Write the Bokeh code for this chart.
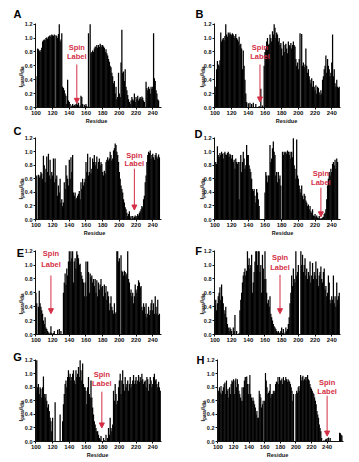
import math
from bokeh.plotting import figure
from bokeh.layouts import column, row
from bokeh.models import Label, Arrow, NormalHead, FixedTicker, Range1d, NumeralTickFormatter
from bokeh.embed import file_html
from bokeh.resources import INLINE

# ---------------- data ----------------
residues = list(range(100, 250))
residues_H = list(range(100, 260))

x_ticks = [100, 120, 140, 160, 180, 200, 220, 240]
y_ticks = [0.0, 0.2, 0.4, 0.6, 0.8, 1.0, 1.2]

panel_letters = ["A", "B", "C", "D", "E", "F", "G", "H"]
spin_label_residue = [149, 154, 218, 227, 118, 178, 179, 240]

A_values = [
    0.45, 0.00, 0.85, 0.84, 0.82, 0.80, 0.83, 0.86, 0.95, 0.97,
    0.98, 0.97, 1.00, 1.01, 0.99, 1.02, 1.03, 1.04, 1.02, 1.05,
    1.04, 1.03, 1.05, 0.00, 1.04, 1.03, 1.00, 1.06, 1.20, 0.95,
    0.98, 1.07, 0.30, 0.28, 0.25, 0.20, 0.17, 0.05, 0.40, 0.10,
    0.08, 0.05, 0.00, 0.03, 0.05, 0.02, 0.04, 0.03, 0.05, 0.06,
    0.04, 0.07, 0.00, 0.03, 0.17, 0.15, 0.05, 0.00, 0.04, 0.02,
    0.05, 0.02, 0.00, 1.07, 0.00, 1.20, 0.78, 0.80, 0.82, 0.80,
    0.85, 0.88, 0.87, 0.90, 0.86, 0.90, 0.87, 0.92, 0.90, 0.87,
    0.90, 0.88, 0.86, 0.80, 0.84, 0.78, 0.75, 0.70, 0.66, 0.60,
    0.58, 0.50, 0.45, 0.35, 0.38, 0.20, 0.30, 0.12, 0.15, 0.50,
    0.20, 0.15, 0.65, 1.12, 0.50, 0.52, 0.38, 0.55, 0.30, 0.25,
    0.18, 0.12, 0.08, 0.05, 0.10, 0.15, 0.12, 0.10, 0.20, 0.08,
    0.15, 0.12, 0.17, 0.10, 0.13, 0.15, 0.12, 0.16, 0.14, 0.10,
    0.08, 0.00, 0.37, 0.28, 0.25, 0.30, 0.27, 0.20, 0.30, 0.27,
    0.30, 1.07, 0.42, 0.38, 0.25, 0.20, 0.12, 0.10, 0.00, 0.00,
]

B_values = [
    0.18, 0.30, 0.55, 0.67, 0.62, 0.60, 0.68, 1.08, 0.95, 0.98,
    1.00, 0.97, 1.03, 1.20, 1.05, 1.02, 1.08, 1.05, 1.08, 1.06,
    1.04, 1.07, 1.05, 1.00, 1.03, 1.06, 1.00, 0.98, 0.95, 1.02,
    0.90, 0.92, 0.85, 0.55, 0.82, 0.60, 0.40, 0.20, 0.08, 0.00,
    0.06, 0.00, 0.07, 0.00, 0.05, 0.00, 0.07, 0.00, 0.00, 0.05,
    0.00, 0.00, 0.00, 0.02, 0.00, 0.27, 0.00, 0.03, 0.00, 0.60,
    0.80, 0.85, 0.95, 1.00, 0.90, 0.92, 1.05, 1.00, 0.95, 1.10,
    1.05, 1.20, 1.15, 1.00, 1.08, 1.05, 0.95, 1.00, 0.90, 0.93,
    0.85, 0.75, 0.95, 0.80, 0.90, 0.92, 0.85, 0.78, 0.95, 0.90,
    0.88, 0.93, 0.85, 0.90, 0.95, 0.90, 0.88, 0.70, 0.60, 0.65,
    0.55, 0.70, 1.07, 0.00, 1.06, 0.60, 0.65, 0.58, 0.62, 0.85,
    0.60, 0.50, 0.55, 0.45, 0.40, 0.35, 0.42, 0.30, 0.38, 0.30,
    0.25, 0.32, 0.20, 0.30, 0.28, 0.22, 0.18, 0.25, 0.20, 0.40,
    0.45, 0.55, 0.60, 0.75, 0.50, 0.70, 0.60, 0.55, 0.45, 0.50,
    0.65, 1.05, 0.45, 0.55, 0.35, 0.30, 0.40, 0.30, 0.28, 0.30,
]

C_values = [
    0.40, 0.65, 0.00, 0.66, 0.62, 0.65, 0.70, 0.68, 0.60, 0.94,
    0.80, 0.55, 0.75, 0.93, 0.70, 0.97, 0.65, 0.88, 0.60, 0.70,
    0.65, 0.90, 0.55, 0.90, 0.60, 0.65, 0.35, 0.50, 0.40, 0.60,
    0.25, 0.30, 0.20, 0.25, 0.55, 0.45, 0.80, 0.65, 0.60, 0.50,
    0.88, 0.60, 0.92, 0.70, 0.95, 0.40, 0.35, 0.40, 0.30, 0.32,
    0.35, 0.38, 0.42, 0.30, 0.55, 0.45, 0.60, 0.50, 0.55, 0.60,
    0.85, 0.70, 0.97, 0.65, 0.70, 0.92, 0.68, 0.75, 0.90, 0.85,
    0.95, 0.80, 0.85, 0.93, 0.75, 0.85, 0.90, 0.80, 0.85, 0.82,
    0.70, 0.65, 0.72, 0.68, 0.85, 0.88, 0.92, 0.87, 0.90, 1.00,
    0.95, 0.87, 0.90, 1.02, 1.05, 1.12, 1.10, 1.00, 0.95, 0.85,
    0.70, 0.60, 0.50, 0.45, 0.40, 0.30, 0.25, 0.18, 0.15, 0.10,
    0.05, 0.08, 0.12, 0.03, 0.05, 0.00, 0.05, 0.02, 0.04, 0.06,
    0.03, 0.05, 0.08, 0.06, 0.10, 0.12, 0.15, 0.20, 0.18, 0.30,
    0.35, 0.55, 0.65, 0.85, 0.95, 1.00, 0.98, 1.02, 0.90, 0.95,
    0.97, 0.92, 0.88, 0.95, 0.98, 0.93, 0.90, 0.96, 0.92, 0.00,
]

D_values = [
    0.60, 0.85, 0.82, 1.08, 0.95, 0.92, 0.98, 0.95, 1.00, 0.97,
    0.90, 0.98, 1.00, 0.96, 0.95, 0.98, 1.00, 0.93, 0.97, 0.95,
    0.90, 0.95, 0.85, 0.88, 0.75, 0.90, 0.85, 0.82, 0.85, 0.30,
    0.85, 0.95, 0.70, 0.85, 1.00, 0.90, 0.75, 0.80, 1.10, 0.95,
    0.95, 0.80, 0.75, 0.70, 0.60, 0.45, 0.42, 0.45, 0.35, 0.25,
    0.45, 0.40, 0.30, 0.20, 0.00, 0.00, 0.00, 0.00, 0.00, 0.00,
    0.40, 0.70, 0.65, 0.55, 0.65, 0.65, 1.10, 0.85, 0.90, 1.05,
    1.15, 1.00, 0.95, 0.65, 0.70, 0.55, 0.70, 0.60, 0.65, 0.50,
    0.00, 1.00, 0.95, 1.00, 0.98, 1.00, 0.97, 1.02, 1.00, 0.95,
    1.00, 0.90, 1.00, 0.92, 1.20, 0.80, 0.75, 0.60, 1.18, 0.65,
    0.60, 0.50, 0.45, 0.40, 0.50, 0.35, 0.30, 0.38, 0.35, 0.28,
    0.25, 0.20, 0.22, 0.15, 0.20, 0.12, 0.10, 0.15, 0.06, 0.05,
    0.08, 0.04, 0.06, 0.03, 0.02, 0.05, 0.02, 0.01, 0.02, 0.03,
    0.04, 0.08, 0.10, 0.15, 0.30, 0.50, 0.60, 0.70, 0.65, 0.75,
    0.70, 0.82, 0.85, 0.80, 0.88, 0.75, 0.90, 0.85, 0.00, 0.00,
]

E_values = [
    0.60, 0.45, 0.00, 0.40, 0.63, 0.45, 0.40, 0.35, 0.30, 0.20,
    0.15, 0.25, 0.10, 0.08, 0.05, 0.03, 0.00, 0.03, 0.12, 0.02,
    0.00, 0.02, 0.05, 0.00, 0.00, 0.00, 0.07, 0.00, 0.08, 0.00,
    0.05, 0.00, 0.00, 0.60, 0.75, 0.88, 0.72, 0.95, 0.85, 1.05,
    1.20, 1.05, 1.20, 1.10, 1.20, 0.75, 1.05, 1.10, 0.95, 1.20,
    1.15, 1.10, 1.00, 1.02, 0.90, 0.85, 0.80, 0.75, 0.55, 0.75,
    1.05, 0.55, 1.05, 0.90, 0.60, 0.88, 0.82, 0.85, 0.75, 0.80,
    0.70, 0.80, 0.60, 0.78, 0.55, 0.75, 0.65, 0.72, 0.80, 0.68,
    0.70, 0.55, 0.72, 0.60, 0.70, 0.50, 0.62, 0.55, 0.35, 0.45,
    0.55, 0.40, 0.35, 0.30, 0.45, 0.30, 0.32, 1.20, 1.20, 1.05,
    1.10, 0.00, 1.14, 0.92, 0.90, 0.85, 0.92, 0.90, 0.85, 0.88,
    1.20, 0.80, 0.75, 0.60, 0.65, 0.55, 0.60, 0.45, 0.55, 0.72,
    0.65, 0.60, 0.70, 0.78, 0.75, 0.68, 0.70, 0.40, 0.35, 0.45,
    0.40, 0.30, 0.45, 0.25, 0.30, 0.40, 0.28, 0.35, 0.45, 0.50,
    0.35, 0.45, 0.30, 0.55, 0.40, 0.30, 0.50, 0.28, 0.30, 0.00,
]

F_values = [
    0.42, 0.50, 0.35, 0.45, 0.55, 0.60, 0.68, 0.50, 0.72, 0.55,
    0.45, 0.35, 0.30, 0.40, 0.25, 0.15, 0.10, 0.05, 0.10, 0.08,
    0.05, 0.00, 0.10, 0.05, 0.28, 0.00, 0.05, 0.00, 0.00, 0.02,
    0.35, 0.50, 0.60, 0.75, 0.85, 0.90, 0.95, 0.85, 0.92, 1.20,
    1.00, 1.10, 0.95, 1.00, 1.15, 0.60, 0.75, 0.90, 1.05, 1.20,
    1.20, 1.00, 1.20, 1.20, 0.90, 1.00, 0.60, 1.15, 0.95, 0.80,
    1.20, 0.80, 0.60, 0.45, 0.50, 0.40, 0.55, 0.30, 0.25, 0.20,
    0.15, 0.12, 0.10, 0.08, 0.05, 0.03, 0.05, 0.02, 0.03, 0.05,
    0.10, 0.02, 0.08, 0.00, 0.03, 0.10, 0.05, 0.08, 0.15, 0.25,
    0.45, 0.60, 0.85, 0.70, 0.95, 0.80, 0.75, 1.20, 0.85, 0.90,
    1.00, 0.00, 0.00, 1.20, 1.00, 1.15, 0.90, 1.00, 1.10, 0.85,
    0.95, 0.80, 0.90, 0.85, 1.05, 0.75, 0.85, 1.03, 0.80, 0.90,
    0.85, 1.05, 0.80, 0.95, 0.70, 0.85, 0.90, 0.98, 0.80, 0.75,
    0.90, 0.95, 0.65, 0.70, 0.55, 0.60, 0.85, 0.75, 0.50, 0.45,
    0.55, 0.50, 0.85, 0.45, 0.55, 0.40, 0.75, 0.50, 0.55, 0.60,
]

G_values = [
    0.75, 1.20, 0.80, 0.85, 0.70, 0.80, 0.78, 0.65, 0.80, 0.96,
    0.70, 0.65, 0.70, 0.60, 0.50, 0.55, 0.45, 0.35, 0.30, 0.15,
    0.35, 0.00, 0.00, 0.58, 0.00, 0.00, 0.00, 0.00, 0.00, 0.40,
    0.00, 0.00, 0.30, 0.55, 0.70, 0.85, 0.90, 0.80, 0.95, 1.05,
    0.95, 1.00, 0.90, 0.95, 1.00, 1.05, 0.90, 0.85, 1.05, 0.95,
    1.00, 1.10, 0.95, 1.20, 1.05, 0.90, 1.15, 0.85, 0.80, 0.80,
    0.75, 0.55, 0.80, 0.95, 0.70, 0.65, 0.90, 0.65, 0.50, 0.40,
    0.30, 0.25, 0.20, 0.15, 0.15, 0.10, 0.05, 0.03, 0.08, 0.00,
    0.00, 0.05, 0.02, 0.00, 0.10, 0.00, 0.05, 0.20, 0.10, 0.35,
    0.20, 0.15, 0.25, 0.75, 0.60, 0.85, 0.70, 0.55, 0.60, 0.80,
    0.90, 1.00, 0.70, 0.90, 1.05, 0.85, 0.75, 0.95, 0.80, 0.85,
    0.90, 0.75, 0.85, 0.95, 0.80, 0.85, 0.90, 0.98, 0.85, 0.90,
    0.95, 0.85, 0.90, 0.98, 0.88, 0.95, 0.90, 1.00, 0.92, 0.85,
    0.88, 0.90, 0.80, 0.95, 0.92, 0.75, 0.85, 0.95, 0.90, 0.80,
    0.85, 0.95, 1.00, 0.90, 0.92, 0.85, 0.80, 0.88, 0.80, 0.75,
]

H_values = [
    0.55, 0.75, 0.80, 0.72, 0.82, 0.70, 0.75, 0.80, 0.85, 0.87,
    0.70, 0.90, 0.75, 0.78, 0.65, 0.80, 0.70, 0.85, 0.90, 0.88,
    0.92, 0.70, 0.90, 0.93, 0.80, 0.92, 0.85, 0.75, 0.70, 0.65,
    0.60, 0.80, 0.60, 0.80, 0.90, 0.95, 0.95, 0.96, 0.85, 0.70,
    0.85, 0.98, 0.70, 0.65, 0.60, 0.65, 0.60, 0.55, 0.50, 0.40,
    0.45, 0.35, 0.35, 0.75, 0.70, 0.65, 0.50, 0.55, 0.60, 0.00,
    0.60, 1.01, 0.90, 0.80, 0.70, 0.72, 0.75, 0.85, 0.65, 0.70,
    0.70, 0.75, 0.72, 0.75, 0.85, 0.88, 0.88, 0.95, 0.85, 0.95,
    0.90, 0.90, 0.93, 0.85, 0.95, 0.90, 0.90, 0.95, 0.92, 0.88,
    0.92, 0.90, 0.88, 0.85, 0.80, 0.75, 0.60, 0.70, 0.00, 0.00,
    0.70, 0.75, 0.72, 0.80, 0.82, 0.75, 0.98, 0.90, 0.95, 0.97,
    0.90, 0.92, 0.95, 0.90, 0.95, 0.98, 0.92, 0.90, 0.85, 0.80,
    0.78, 0.75, 0.72, 0.70, 0.65, 0.60, 0.55, 0.45, 0.40, 0.35,
    0.25, 0.20, 0.15, 0.05, 0.00, 0.00, 0.02, 0.00, 0.03, 0.04,
    0.00, 0.05, 0.06, 0.00, 0.05, 0.00, 0.00, 0.00, 0.00, 0.00,
    0.00, 0.00, 0.00, 0.00, 0.00, 0.00, 0.13, 0.12, 0.10, 0.09,
]

panel_values = [A_values, B_values, C_values, D_values, E_values, F_values, G_values, H_values]
panel_residues = [residues] * 7 + [residues_H]

# ---------------- layout / style ----------------
FONT = "Liberation Sans"
RED = "#d42f46"
BAR = "#000000"
INK = "#111111"
X_START = 99.5
Y_END = 1.21

# row: (space_top, plot_h, space_bottom) in px
ROWS = [(23, 84, 17), (13, 82, 17), (14, 84, 10), (15, 82, 19)]
# col: (space_left, plot_w, space_right) in px
COLS = [(35, 126, 22), (31, 126, 18)]
COL_H = (34, 126, 15)
X_END = [250.5] * 7 + [261.0]
SHOW_RESIDUE = [True, True, True, True, False, False, True, True]
RESIDUE_DX = [61, 72, 59, 68, 0, 0, 62, 60]
LETTER_POS = [(-18, 10), (-15, 10), (-18, 7), (-16, 4), (-15, -2), (-16, 0), (-18, 3), (-17, 0)]
YLAB_X = [-14.5, -12.5, -14.5, -12.5, -14.5, -12.5, -14.5, -15.0]
SPIN_TEXT_Y = [(0.87, 0.74), (0.87, 0.74), (0.95, 0.82), (0.68, 0.54),
               (1.16, 1.01), (1.11, 0.97), (0.99, 0.85), (0.87, 0.74)]
ARROW_Y = [(0.62, 0.06), (0.62, 0.08), (0.75, 0.14), (0.47, 0.04),
           (0.85, 0.30), (0.86, 0.30), (0.735, 0.20), (0.675, 0.08)]


def make_panel(i):
    r, c = divmod(i, 2)
    bt, fh, bb = ROWS[r]
    bl, fw, br = COL_H if i == 7 else COLS[c]
    x_end = X_END[i]
    kx = (x_end - X_START) / fw   # data units per pixel (x)
    ky = Y_END / fh               # data units per pixel (y)

    def px(dx):
        return X_START + dx * kx

    def py(dy):
        return dy * ky

    p = figure(width=bl + fw + br, height=bt + fh + bb,
               x_range=Range1d(px(-bl), px(fw + br)),
               y_range=Range1d(py(-bb), py(fh + bt)),
               output_backend="svg", toolbar_location=None,
               min_border_left=0, min_border_right=0,
               min_border_top=0, min_border_bottom=0)
    p.title.visible = False
    p.outline_line_color = None
    p.xgrid.visible = False
    p.ygrid.visible = False
    p.background_fill_color = "white"
    p.border_fill_color = "white"

    p.vbar(x=panel_residues[i], top=panel_values[i], width=1.5, bottom=0,
           fill_color=BAR, line_color=None)

    p.xaxis.ticker = FixedTicker(ticks=x_ticks)
    p.yaxis.ticker = FixedTicker(ticks=y_ticks)
    p.yaxis.formatter = NumeralTickFormatter(format="0.0")
    p.xaxis.fixed_location = 0
    p.xaxis.bounds = (X_START, x_end)
    p.yaxis.fixed_location = X_START
    p.yaxis.bounds = (0, Y_END)
    for ax, fs in ((p.xaxis[0], "6px"), (p.yaxis[0], "5.5px")):
        ax.major_label_text_font = FONT
        ax.major_label_text_font_size = fs
        ax.major_label_text_font_style = "bold"
        ax.major_label_text_color = INK
        ax.major_tick_out = 2
        ax.major_tick_in = 0
        ax.minor_tick_out = 0
        ax.minor_tick_in = 0
        ax.axis_line_color = INK
        ax.major_tick_line_color = INK
        ax.major_label_standoff = 1

    # panel letter
    lx, ly = LETTER_POS[i]
    p.add_layout(Label(x=px(lx), y=py(fh + ly),
                       text=panel_letters[i], text_font=FONT, text_font_size="11px",
                       text_font_style="bold", text_align="center",
                       text_baseline="middle", text_color="black"))

    # y axis label I_para / I_dia, rotated
    yx = YLAB_X[i]
    parts = [("I", 6.0, 0.278, 0.0), ("para", 4.5, 2.112, 1.6),
             ("/I", 6.0, 0.556, 0.0), ("dia", 4.5, 1.445, 1.6)]
    pos = 20.0
    for txt, fs, w_em, shift in parts:
        p.add_layout(Label(x=px(yx + shift), y=py(pos),
                           text=txt, text_font=FONT, text_font_size=f"{fs}px",
                           text_font_style="bold", angle=math.pi / 2,
                           text_align="left", text_baseline="alphabetic",
                           text_color=INK))
        pos += fs * w_em

    # x axis title
    if SHOW_RESIDUE[i]:
        p.add_layout(Label(x=px(RESIDUE_DX[i]), y=py(-13),
                           text="Residue", text_font=FONT, text_font_size="5.5px",
                           text_font_style="bold", text_align="center",
                           text_baseline="middle", text_color=INK))

    # spin label annotation
    s = spin_label_residue[i]
    ty1, ty2 = SPIN_TEXT_Y[i]
    for txt, ty in (("Spin", ty1), ("Label", ty2)):
        p.add_layout(Label(x=s, y=ty, text=txt, text_font=FONT, text_font_size="7.5px",
                           text_font_style="bold", text_align="center",
                           text_baseline="middle", text_color=RED))
    a0, a1 = ARROW_Y[i]
    p.add_layout(Arrow(x_start=s, y_start=a0, x_end=s, y_end=a1,
                       line_color=RED, line_width=1,
                       end=NormalHead(size=5, fill_color=RED, line_color=RED, line_width=1)))
    return p


panels = [make_panel(i) for i in range(8)]
layout = column(row(panels[0], panels[1]), row(panels[2], panels[3]),
                row(panels[4], panels[5]), row(panels[6], panels[7]))

with open("out.html", "w") as f:
    f.write(file_html(layout, INLINE))
